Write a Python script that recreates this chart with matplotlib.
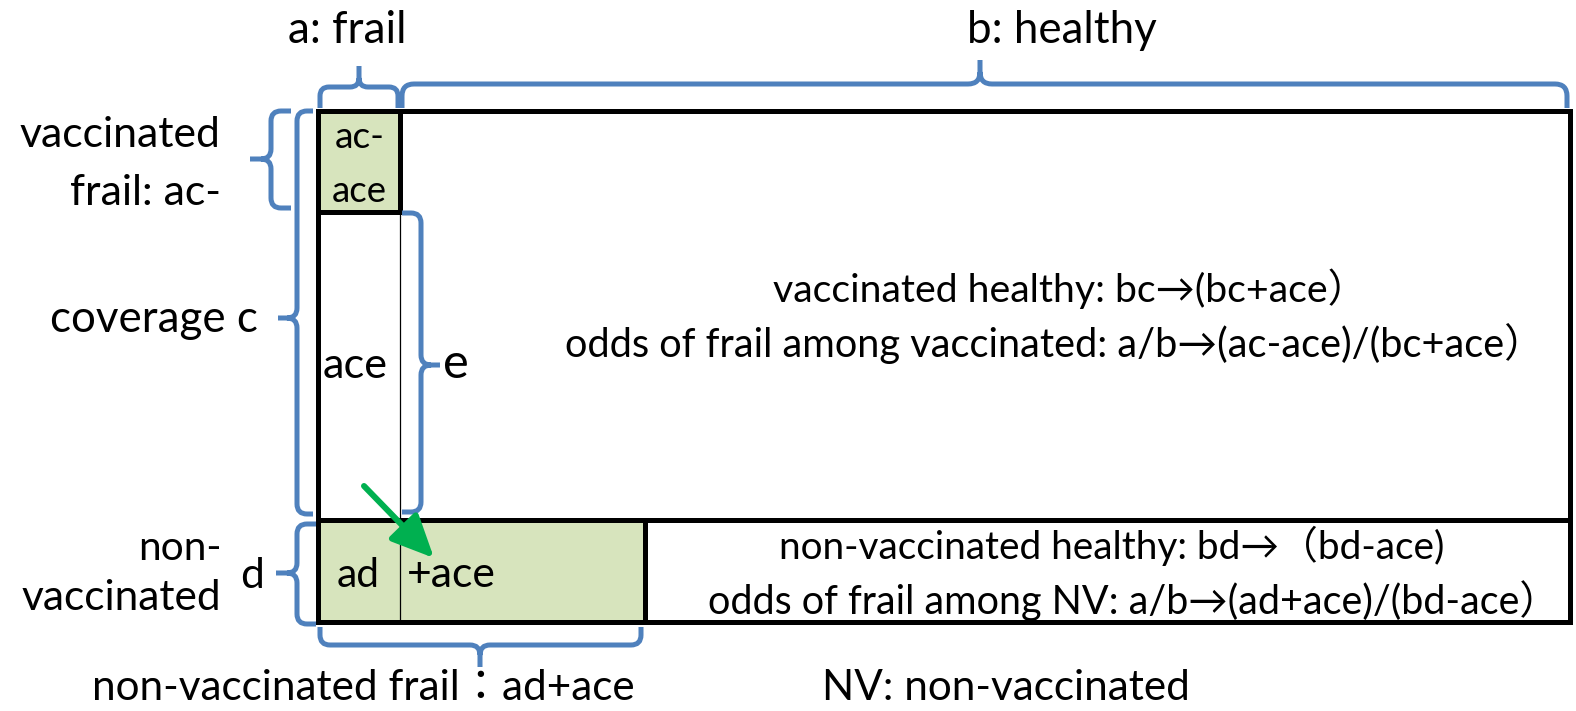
import matplotlib
matplotlib.use("Agg")
import matplotlib.pyplot as plt
from matplotlib.path import Path
from matplotlib.patches import PathPatch, Rectangle, FancyArrowPatch

plt.rcParams['font.family'] = ['Lato', 'Noto Sans CJK TC', 'DejaVu Sans']

# ---- content ----
column_labels = ["a: frail", "b: healthy"]
row_labels_vacc_frail = ["vaccinated", "frail: ac-"]
coverage_label = "coverage c"
nonvacc_labels = ["non-", "vaccinated"]
d_label = "d"
e_label = "e"
cell_acace = ["ac-", "ace"]
cell_ace = "ace"
cell_ad = "ad"
cell_plus_ace = "+ace"
vacc_healthy_lines = ["vaccinated healthy: bc\u2192(bc+ace\uff09",
                      "odds of frail among vaccinated: a/b\u2192(ac-ace)/(bc+ace\uff09"]
nonvacc_healthy_lines = ["non-vaccinated healthy: bd\u2192\uff08bd-ace)",
                         "odds of frail among NV: a/b\u2192(ad+ace)/(bd-ace\uff09"]
bottom_left_label = "non-vaccinated frail\uff1aad+ace"
bottom_right_label = "NV: non-vaccinated"

W, H = 1576, 711
fig = plt.figure(figsize=(W / 100, H / 100), dpi=100)
ax = fig.add_axes([0, 0, 1, 1])
ax.set_xlim(0, W)
ax.set_ylim(H, 0)
ax.axis('off')
renderer = fig.canvas.get_renderer()

px = 72 / 100.0
BLUE = '#4f81bd'
GREEN_FILL = '#d7e4bd'
GREEN = '#00b050'

# ---- boxes ----
L, R, T, B, MID = 318, 1570, 111, 622, 520
XA = 400
YA = 212
XG = 645
ax.add_patch(Rectangle((L, T), XA - L, YA - T, facecolor=GREEN_FILL, edgecolor='none', zorder=1))
ax.add_patch(Rectangle((L, MID), XG - L, B - MID, facecolor=GREEN_FILL, edgecolor='none', zorder=1))
thick = 5 * px
def seg(x0, y0, x1, y1, lw=thick, c='black'):
    ax.plot([x0, x1], [y0, y1], color=c, lw=lw, solid_capstyle='projecting', zorder=3)
seg(L, T, R, T); seg(L, B, R, B); seg(L, T, L, B); seg(R, T, R, B)
seg(L, MID, R, MID)
seg(XA, T, XA, YA); seg(L, YA, XA, YA)
seg(XG, MID, XG, B)
ax.plot([XA, XA], [YA, B], color='black', lw=0.9, zorder=3)

# ---- braces ----
CODES = [Path.MOVETO, Path.LINETO, Path.CURVE3, Path.CURVE3,
         Path.LINETO, Path.CURVE3, Path.CURVE3, Path.LINETO,
         Path.MOVETO, Path.CURVE3, Path.CURVE3,
         Path.LINETO, Path.CURVE3, Path.CURVE3, Path.LINETO]

def hbrace(x0, x1, yend, yline, xtip, ytip, r=10):
    s = 1 if yend > yline else -1
    st = 1 if ytip < yline else -1
    verts = [(x0, yend), (x0, yline + s * r), (x0, yline), (x0 + r, yline),
             (xtip - r, yline), (xtip, yline), (xtip, yline - st * r), (xtip, ytip),
             (xtip, yline - st * r), (xtip, yline), (xtip + r, yline),
             (x1 - r, yline), (x1, yline), (x1, yline + s * r), (x1, yend)]
    ax.add_patch(PathPatch(Path(verts, CODES), fill=False, edgecolor=BLUE, lw=5 * px,
                           capstyle='butt', joinstyle='round', zorder=4))

def vbrace(y0, y1, xend, xline, ytip, xtip, r=10):
    s = 1 if xend > xline else -1
    st = 1 if xtip < xline else -1
    verts = [(xend, y0), (xline + s * r, y0), (xline, y0), (xline, y0 + r),
             (xline, ytip - r), (xline, ytip), (xline - st * r, ytip), (xtip, ytip),
             (xline - st * r, ytip), (xline, ytip), (xline, ytip + r),
             (xline, y1 - r), (xline, y1), (xline + s * r, y1), (xend, y1)]
    ax.add_patch(PathPatch(Path(verts, CODES), fill=False, edgecolor=BLUE, lw=5 * px,
                           capstyle='butt', joinstyle='round', zorder=4))

hbrace(320, 398, 108, 87, 359, 66, r=9)
hbrace(402, 1567, 108, 84, 980, 60, r=12)
vbrace(111, 208, 291, 271, 159, 250, r=10)
vbrace(111, 514, 313, 297, 318, 278, r=10)
vbrace(213, 512, 402, 421, 365, 440, r=10)
vbrace(524, 624, 316, 297, 573, 276, r=10)
hbrace(320, 641, 627, 645, 480, 667, r=10)

# ---- arrow ----
ax.add_patch(FancyArrowPatch((364, 486), (434, 558), arrowstyle='-|>,head_length=26,head_width=12',
                             mutation_scale=1, color=GREEN, lw=6 * px, zorder=5,
                             shrinkA=0, shrinkB=0))

# ---- texts ----
def size_for(s, width):
    t = ax.text(0, 0, s, fontsize=20)
    w = t.get_window_extent(renderer).width
    t.remove()
    return 20 * width / w

def fit(s, x0, x1, ybase):
    fs = size_for(s, x1 - x0)
    return ax.text(x0, ybase, s, ha='left', va='baseline', fontsize=fs, color='black', zorder=6)

fit(column_labels[0], 288, 407, 43)
fit(column_labels[1], 967, 1157, 43)
fit(row_labels_vacc_frail[0], 20, 222, 147)
fit(row_labels_vacc_frail[1], 70, 222, 205)
fit(coverage_label, 50, 258, 332)
fit(nonvacc_labels[0], 138, 222, 560)
fit(nonvacc_labels[1], 22, 222, 610)
fit(d_label, 240, 264, 588)
fit(e_label, 443, 469, 378)
fit(cell_acace[0], 335, 385, 148)
fit(cell_acace[1], 332, 387, 202)
fit(cell_ace, 323, 388, 378)
fit(cell_ad, 337, 380, 587)
fit(cell_plus_ace, 407, 496, 587)

fit(vacc_healthy_lines[0], 773, 1368, 302)
fit(vacc_healthy_lines[1], 565, 1545, 357)
fit(nonvacc_healthy_lines[0], 779, 1446, 559)
fit(nonvacc_healthy_lines[1], 708, 1560, 614)
tb = fit(bottom_left_label, 92, 636, 700)
ax.text(1006, 700, bottom_right_label, ha='center', va='baseline',
        fontsize=tb.get_fontsize(), color='black', zorder=6)

fig.savefig('out.png', dpi=100, facecolor='white')
